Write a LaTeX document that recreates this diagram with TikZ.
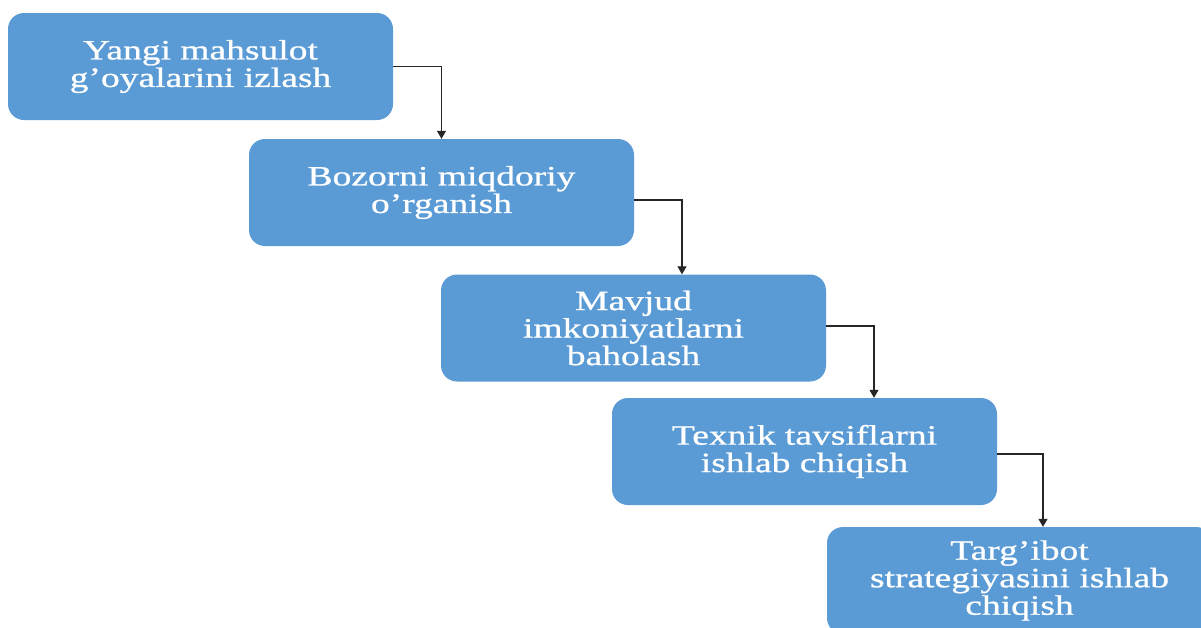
\documentclass[tikz,border=0pt]{standalone}
\usepackage{fontspec}
\setmainfont{Liberation Serif}[FakeStretch=1.34,FakeBold=0.8]
\usetikzlibrary{arrows.meta}
\definecolor{boxblue}{HTML}{5B9BD5}
\tikzset{
  stepbox/.style={fill=boxblue, draw=none, rounded corners=16pt,
    minimum width=385pt, minimum height=107pt, inner sep=0pt,
    text=white, align=center, font=\fontsize{28}{27.5}\selectfont},
  conn/.style={draw=black!85, line width=1.1pt, -{Triangle[width=9pt,length=8pt]}}
}
\begin{document}
\begin{tikzpicture}[x=1pt,y=-1pt]
\useasboundingbox (0,0) rectangle (1201,627);
\clip (0,0) rectangle (1201,627);
\fill[white] (0,0) rectangle (1201,627);
\node[stepbox] (b1) at (200.5,66.5) {Yangi mahsulot\\g’oyalarini izlash};
\node[stepbox] (b2) at (441.5,192.5) {Bozorni miqdoriy\\o’rganish};
\node[stepbox] (b3) at (633.5,328) {Mavjud\\imkoniyatlarni\\baholash};
\node[stepbox] (b4) at (804.5,451.5) {Texnik tavsiflarni\\ishlab chiqish};
\node[stepbox] (b5) at (1019.5,580.5) {Targ’ibot\\strategiyasini ishlab\\chiqish};
\draw[conn] (b1.east) -| (b2.north);
\draw[conn] ([yshift=-7.5pt]b2.east) -| ([xshift=48.5pt]b3.north);
\draw[conn] ([yshift=2pt]b3.east) -| ([xshift=69.5pt]b4.north);
\draw[conn] ([yshift=-2.5pt]b4.east) -| ([xshift=23.5pt]b5.north);
\end{tikzpicture}
\end{document}
